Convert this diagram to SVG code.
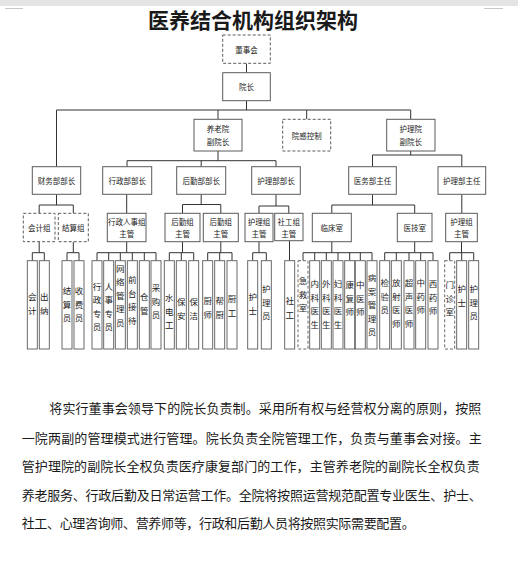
<svg xmlns="http://www.w3.org/2000/svg" width="518" height="566" viewBox="0 0 518 566">
<style>
.bx{fill:#fff;stroke:#5a5a5a;stroke-width:1}
.ds{stroke-dasharray:3 2}
.lf{fill:#fff;stroke:#5a5a5a;stroke-width:0.9}
.t{font-family:"Noto Sans CJK SC","Noto Sans",sans-serif;font-size:7.5px;fill:#222;text-anchor:middle;dominant-baseline:central}
.lt{font-family:"Noto Sans CJK SC","Noto Sans",sans-serif;font-size:8.5px;fill:#222;text-anchor:middle;dominant-baseline:central}
.p{font-family:"Noto Sans CJK SC","Noto Sans",sans-serif;font-size:13px;fill:#1a1a1a;dominant-baseline:central}
#conn path{fill:none;stroke:#333;stroke-width:1}
</style>
<rect x="0" y="0" width="518" height="566" fill="#fff"/>
<rect x="0" y="0" width="518" height="6" fill="#e4e4e4"/>
<path d="M5 8.5H23M484 8.5H503" stroke="#c8c8c8" stroke-width="1"/>
<text x="253" y="19" font-family="'Noto Sans CJK SC',sans-serif" font-size="21" font-weight="bold" fill="#1a1a1a" text-anchor="middle" dominant-baseline="central">医养结合机构组织架构</text>

<g id="conn">
<path d="M246.5 63.3V72.7M246.5 100.7V110M56.5 110H410.7M56.5 110V166.7M218 110V119.3M306.7 110V119.3M410.7 110V119.3"/>
<path d="M218 151V160.7M127 160.7H276M127 160.7V166.7M201.2 160.7V166.7M276 160.7V166.7"/>
<path d="M410.7 151V155M372.5 155H461.8M372.5 155V166.7M461.8 155V166.7"/>
<path d="M56.5 194.3V205M39.2 205H73.3M39.2 205V213.3M73.3 205V213.3"/>
<path d="M126.7 194.3V213.3"/>
<path d="M201.2 194.3V204.5M182.5 204.5H220.8M182.5 204.5V213.3M220.8 204.5V213.3"/>
<path d="M276 194.3V206M259 206H288.8M259 206V213.3M288.8 206V213.3"/>
<path d="M372.5 194.3V205M331.8 205H414.7M331.8 205V213.3M414.7 205V213.3"/>
<path d="M461.8 194.3V213.3"/>
<path d="M39.2 241.7V252.7M32.3 252.7H44.3M32.3 252.7V260.7M44.3 252.7V260.7"/>
<path d="M73.3 241.7V252.7M67 252.7H79M67 252.7V260.7M79 252.7V260.7"/>
<path d="M126.7 241.7V252.7M97 252.7H156M97 252.7V260.7M108.7 252.7V260.7M120.3 252.7V260.7M132.3 252.7V260.7M144.3 252.7V260.7M156 252.7V260.7"/>
<path d="M182.5 241.7V252.7M169.3 252.7H193.7M169.3 252.7V260.7M181.3 252.7V260.7M193.7 252.7V260.7"/>
<path d="M220.8 241.7V252.7M207.7 252.7H232M207.7 252.7V260.7M219.7 252.7V260.7M232 252.7V260.7"/>
<path d="M259 241.7V252.7M252.7 252.7H266.3M252.7 252.7V260.7M266.3 252.7V260.7"/>
<path d="M289.5 240.7V260.7"/>
<path d="M331.8 241.7V252.7M303 252.7H372M303 252.7V260.7M314.7 252.7V260.7M326.3 252.7V260.7M338 252.7V260.7M349.7 252.7V260.7M360.3 252.7V260.7M372 252.7V260.7"/>
<path d="M414.7 241.7V252.7M384.7 252.7H433M384.7 252.7V260.7M396.3 252.7V260.7M409 252.7V260.7M420.7 252.7V260.7M433 252.7V260.7"/>
<path d="M461.5 241.7V252.7M449.7 252.7H473.7M449.7 252.7V260.7M461.7 252.7V260.7M473.7 252.7V260.7"/>
</g>

<g id="dongshihui"><rect class="bx ds" x="222.7" y="35" width="47.6" height="28.3"/><text class="t" x="246.5" y="49.2">董事会</text></g>
<g id="yuanzhang"><rect class="bx" x="222.7" y="72.7" width="47.6" height="28"/><text class="t" x="246.5" y="86.7">院长</text></g>
<g id="yanglao-fu"><rect class="bx" x="194" y="119.3" width="48" height="31.7"/><text class="t" x="218" y="128.7">养老院</text><text class="t" x="218" y="141.7">副院长</text></g>
<g id="yuangan"><rect class="bx ds" x="282.7" y="119.3" width="48" height="31.7"/><text class="t" x="306.7" y="135.2">院感控制</text></g>
<g id="huli-fu"><rect class="bx" x="386.7" y="119.3" width="48.3" height="31.7"/><text class="t" x="410.8" y="128.7">护理院</text><text class="t" x="410.8" y="141.7">副院长</text></g>

<g id="caiwu"><rect class="bx" x="32.3" y="166.7" width="48.4" height="27.6"/><text class="t" x="56.5" y="180.5">财务部部长</text></g>
<g id="xingzheng"><rect class="bx" x="102.7" y="166.7" width="49" height="27.6"/><text class="t" x="127.2" y="180.5">行政部部长</text></g>
<g id="houqin"><rect class="bx" x="176.7" y="166.7" width="49" height="27.6"/><text class="t" x="201.2" y="180.5">后勤部部长</text></g>
<g id="hulibu"><rect class="bx" x="251.7" y="166.7" width="48.6" height="27.6"/><text class="t" x="276" y="180.5">护理部部长</text></g>
<g id="yiwu"><rect class="bx" x="348.7" y="166.7" width="47.6" height="27.6"/><text class="t" x="372.5" y="180.5">医务部主任</text></g>
<g id="hulizhuren"><rect class="bx" x="438" y="166.7" width="47.7" height="27.6"/><text class="t" x="461.8" y="180.5">护理部主任</text></g>

<g id="kuaijizu"><rect class="bx ds" x="23.3" y="213.3" width="31.7" height="28.4"/><text class="t" x="39.2" y="227.5">会计组</text></g>
<g id="jiesuanzu"><rect class="bx ds" x="58.3" y="213.3" width="30" height="28.4"/><text class="t" x="73.3" y="227.5">结算组</text></g>
<g id="xingzhengrenshi"><rect class="bx" x="107.3" y="213.3" width="38.7" height="28.4"/><text class="t" x="126.7" y="221.7">行政人事组</text><text class="t" x="126.7" y="233.3">主管</text></g>
<g id="houqinzu1"><rect class="bx" x="165" y="213.3" width="35" height="28.4"/><text class="t" x="182.5" y="221.7">后勤组</text><text class="t" x="182.5" y="233.3">主管</text></g>
<g id="houqinzu2"><rect class="bx" x="203.3" y="213.3" width="35" height="28.4"/><text class="t" x="220.8" y="221.7">后勤组</text><text class="t" x="220.8" y="233.3">主管</text></g>
<g id="hulizu1"><rect class="bx" x="245" y="213.3" width="28" height="28.4"/><text class="t" x="259" y="221.7">护理组</text><text class="t" x="259" y="233.3">主管</text></g>
<g id="shegongzu"><rect class="bx" x="274.7" y="213.3" width="28.3" height="27.4"/><text class="t" x="288.8" y="221.7">社工组</text><text class="t" x="288.8" y="233.3">主管</text></g>
<g id="linchuang"><rect class="bx" x="312.3" y="213.3" width="39" height="28.4"/><text class="t" x="331.8" y="227.5">临床室</text></g>
<g id="yiji"><rect class="bx" x="397.3" y="213.3" width="34.7" height="28.4"/><text class="t" x="414.7" y="227.5">医技室</text></g>
<g id="hulizu2"><rect class="bx" x="445.7" y="213.3" width="31.6" height="28.4"/><text class="t" x="461.5" y="221.7">护理组</text><text class="t" x="461.5" y="233.3">主管</text></g>

<g id="l1"><rect class="lf" x="27.3" y="260.7" width="10" height="88.3"/><text class="lt"><tspan x="32.3" y="296">会</tspan><tspan x="32.3" y="309.5">计</tspan></text></g>
<g id="l2"><rect class="lf" x="39.3" y="260.7" width="10" height="88.3"/><text class="lt"><tspan x="44.3" y="296">出</tspan><tspan x="44.3" y="309.5">纳</tspan></text></g>
<g id="l3"><rect class="lf" x="62" y="260.7" width="10" height="88.3"/><text class="lt"><tspan x="67" y="290">结</tspan><tspan x="67" y="303.5">算</tspan><tspan x="67" y="317">员</tspan></text></g>
<g id="l4"><rect class="lf" x="74" y="260.7" width="10" height="88.3"/><text class="lt"><tspan x="79" y="290">收</tspan><tspan x="79" y="303.5">费</tspan><tspan x="79" y="317">员</tspan></text></g>
<g id="l5"><rect class="lf" x="92" y="260.7" width="10" height="88.3"/><text class="lt"><tspan x="97" y="285.5">行</tspan><tspan x="97" y="299">政</tspan><tspan x="97" y="312.5">专</tspan><tspan x="97" y="326">员</tspan></text></g>
<g id="l6"><rect class="lf" x="103.7" y="260.7" width="10" height="88.3"/><text class="lt"><tspan x="108.7" y="285.5">人</tspan><tspan x="108.7" y="299">事</tspan><tspan x="108.7" y="312.5">专</tspan><tspan x="108.7" y="326">员</tspan></text></g>
<g id="l7"><rect class="lf" x="115.3" y="260.7" width="10" height="88.3"/><text class="lt"><tspan x="120.3" y="267.5">网</tspan><tspan x="120.3" y="281">络</tspan><tspan x="120.3" y="294.5">管</tspan><tspan x="120.3" y="308">理</tspan><tspan x="120.3" y="321.5">员</tspan></text></g>
<g id="l8"><rect class="lf" x="127.3" y="260.7" width="10" height="88.3"/><text class="lt"><tspan x="132.3" y="279">前</tspan><tspan x="132.3" y="292.5">台</tspan><tspan x="132.3" y="306">接</tspan><tspan x="132.3" y="319.5">待</tspan></text></g>
<g id="l9"><rect class="lf" x="139.3" y="260.7" width="10" height="88.3"/><text class="lt"><tspan x="144.3" y="296">仓</tspan><tspan x="144.3" y="309.5">管</tspan></text></g>
<g id="l10"><rect class="lf" x="151" y="260.7" width="10" height="88.3"/><text class="lt"><tspan x="156" y="287">采</tspan><tspan x="156" y="300.5">购</tspan><tspan x="156" y="314">员</tspan></text></g>
<g id="l11"><rect class="lf" x="164.3" y="260.7" width="10" height="88.3"/><text class="lt"><tspan x="169.3" y="297">水</tspan><tspan x="169.3" y="310.5">电</tspan><tspan x="169.3" y="324">工</tspan></text></g>
<g id="l12"><rect class="lf" x="176.3" y="260.7" width="10" height="88.3"/><text class="lt"><tspan x="181.3" y="301">保</tspan><tspan x="181.3" y="314.5">安</tspan></text></g>
<g id="l13"><rect class="lf" x="188.7" y="260.7" width="10" height="88.3"/><text class="lt"><tspan x="193.7" y="301">保</tspan><tspan x="193.7" y="314.5">洁</tspan></text></g>
<g id="l14"><rect class="lf" x="202.7" y="260.7" width="10" height="88.3"/><text class="lt"><tspan x="207.7" y="300">厨</tspan><tspan x="207.7" y="313.5">师</tspan></text></g>
<g id="l15"><rect class="lf" x="214.7" y="260.7" width="10" height="88.3"/><text class="lt"><tspan x="219.7" y="300">帮</tspan><tspan x="219.7" y="313.5">厨</tspan></text></g>
<g id="l16"><rect class="lf" x="227" y="260.7" width="10" height="88.3"/><text class="lt"><tspan x="232" y="298">厨</tspan><tspan x="232" y="311.5">工</tspan></text></g>
<g id="l17"><rect class="lf" x="247.7" y="260.7" width="10" height="88.3"/><text class="lt"><tspan x="252.7" y="296">护</tspan><tspan x="252.7" y="309.5">士</tspan></text></g>
<g id="l18"><rect class="lf" x="261.3" y="260.7" width="10" height="88.3"/><text class="lt"><tspan x="266.3" y="288">护</tspan><tspan x="266.3" y="301.5">理</tspan><tspan x="266.3" y="315">员</tspan></text></g>
<g id="l19"><rect class="lf" x="284.7" y="260.7" width="10" height="88.3"/><text class="lt"><tspan x="289.7" y="300">社</tspan><tspan x="289.7" y="313.5">工</tspan></text></g>
<g id="l20"><rect class="lf ds" x="298" y="260.7" width="10" height="88.3"/><text class="lt"><tspan x="303" y="280">急</tspan><tspan x="303" y="293.5">救</tspan><tspan x="303" y="307">室</tspan></text></g>
<g id="l21"><rect class="lf" x="309.7" y="260.7" width="10" height="88.3"/><text class="lt"><tspan x="314.7" y="283">内</tspan><tspan x="314.7" y="296.5">科</tspan><tspan x="314.7" y="310">医</tspan><tspan x="314.7" y="323.5">生</tspan></text></g>
<g id="l22"><rect class="lf" x="321.3" y="260.7" width="10" height="88.3"/><text class="lt"><tspan x="326.3" y="283">外</tspan><tspan x="326.3" y="296.5">科</tspan><tspan x="326.3" y="310">医</tspan><tspan x="326.3" y="323.5">生</tspan></text></g>
<g id="l23"><rect class="lf" x="333" y="260.7" width="10" height="88.3"/><text class="lt"><tspan x="338" y="283">妇</tspan><tspan x="338" y="296.5">科</tspan><tspan x="338" y="310">医</tspan><tspan x="338" y="323.5">生</tspan></text></g>
<g id="l24"><rect class="lf" x="344.7" y="260.7" width="10" height="88.3"/><text class="lt"><tspan x="349.7" y="284">康</tspan><tspan x="349.7" y="297.5">复</tspan><tspan x="349.7" y="311">师</tspan></text></g>
<g id="l25"><rect class="lf" x="355.3" y="260.7" width="10" height="88.3"/><text class="lt"><tspan x="360.3" y="284">中</tspan><tspan x="360.3" y="297.5">医</tspan><tspan x="360.3" y="311">师</tspan></text></g>
<g id="l26"><rect class="lf" x="367" y="260.7" width="10" height="88.3"/><text class="lt"><tspan x="372" y="277">病</tspan><tspan x="372" y="290.5">案</tspan><tspan x="372" y="304">管</tspan><tspan x="372" y="317.5">理</tspan><tspan x="372" y="331">员</tspan></text></g>
<g id="l27"><rect class="lf" x="379.7" y="260.7" width="10" height="88.3"/><text class="lt"><tspan x="384.7" y="282">检</tspan><tspan x="384.7" y="295.5">验</tspan><tspan x="384.7" y="309">员</tspan></text></g>
<g id="l28"><rect class="lf" x="391.3" y="260.7" width="10" height="88.3"/><text class="lt"><tspan x="396.3" y="282">放</tspan><tspan x="396.3" y="295.5">射</tspan><tspan x="396.3" y="309">医</tspan><tspan x="396.3" y="322.5">师</tspan></text></g>
<g id="l29"><rect class="lf" x="404" y="260.7" width="10" height="88.3"/><text class="lt"><tspan x="409" y="282">超</tspan><tspan x="409" y="295.5">声</tspan><tspan x="409" y="309">医</tspan><tspan x="409" y="322.5">师</tspan></text></g>
<g id="l30"><rect class="lf" x="415.7" y="260.7" width="10" height="88.3"/><text class="lt"><tspan x="420.7" y="282">中</tspan><tspan x="420.7" y="295.5">药</tspan><tspan x="420.7" y="309">师</tspan></text></g>
<g id="l31"><rect class="lf" x="428" y="260.7" width="10" height="88.3"/><text class="lt"><tspan x="433" y="283">西</tspan><tspan x="433" y="296.5">药</tspan><tspan x="433" y="310">师</tspan></text></g>
<g id="l32"><rect class="lf ds" x="444.7" y="260.7" width="10" height="88.3"/><text class="lt"><tspan x="449.7" y="284">门</tspan><tspan x="449.7" y="297.5">诊</tspan><tspan x="449.7" y="311">室</tspan></text></g>
<g id="l33"><rect class="lf" x="456.7" y="260.7" width="10" height="88.3"/><text class="lt"><tspan x="461.7" y="288">护</tspan><tspan x="461.7" y="301.5">士</tspan></text></g>
<g id="l34"><rect class="lf" x="468.7" y="260.7" width="10" height="88.3"/><text class="lt"><tspan x="473.7" y="288">护</tspan><tspan x="473.7" y="301.5">理</tspan><tspan x="473.7" y="315">员</tspan></text></g>

<g id="paragraph">
<text class="p" x="49.3" y="407" textLength="432" lengthAdjust="spacing">将实行董事会领导下的院长负责制。采用所有权与经营权分离的原则，按照</text>
<text class="p" x="21.7" y="437" textLength="460" lengthAdjust="spacing">一院两副的管理模式进行管理。院长负责全院管理工作，负责与董事会对接。主</text>
<text class="p" x="21.7" y="465.5" textLength="458" lengthAdjust="spacing">管护理院的副院长全权负责医疗康复部门的工作，主管养老院的副院长全权负责</text>
<text class="p" x="21.7" y="494" textLength="460" lengthAdjust="spacing">养老服务、行政后勤及日常运营工作。全院将按照运营规范配置专业医生、护士、</text>
<text class="p" x="21.7" y="522.5" textLength="393" lengthAdjust="spacing">社工、心理咨询师、营养师等，行政和后勤人员将按照实际需要配置。</text>
</g>
</svg>
